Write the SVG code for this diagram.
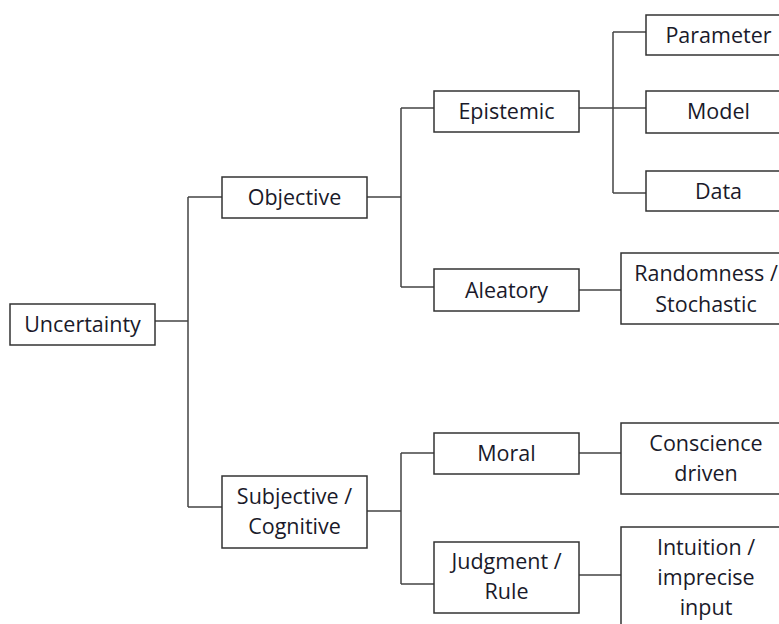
<svg xmlns="http://www.w3.org/2000/svg" width="779" height="624" viewBox="0 0 779 624">
<style>
rect.n{fill:#fff;stroke:#333;stroke-width:1.5}
text{font-family:"Open Sans","Liberation Sans",sans-serif;font-size:21.5px;fill:#1a1a2a;text-anchor:middle}
#connectors path{fill:none;stroke:#444;stroke-width:1.5}
</style>
<rect width="779" height="624" fill="#fff"/>
<g id="connectors">
<path d="M155,321H188M188,197V507M188,197H222M188,507H222"/>
<path d="M367,197H401M401,108V287M401,108H434M401,287H434"/>
<path d="M579,108H646M613,32V193M613,32H646M613,193H646"/>
<path d="M579,290H621"/>
<path d="M367,511H401M401,453V584M401,453H434M401,584H434"/>
<path d="M579,453H621M579,575H621"/>
</g>
<g id="uncertainty"><rect class="n" x="10" y="304" width="145" height="41"/><text x="82.5" y="332">Uncertainty</text></g>
<g id="objective"><rect class="n" x="222" y="177" width="145" height="41"/><text x="294.5" y="205">Objective</text></g>
<g id="subjective"><rect class="n" x="222" y="476" width="145" height="72"/><text x="294.5" y="504">Subjective /</text><text x="294.5" y="534">Cognitive</text></g>
<g id="epistemic"><rect class="n" x="434" y="91" width="145" height="41"/><text x="506.5" y="119">Epistemic</text></g>
<g id="aleatory"><rect class="n" x="434" y="269" width="145" height="42"/><text x="506.5" y="298">Aleatory</text></g>
<g id="moral"><rect class="n" x="434" y="433" width="145" height="41"/><text x="506.5" y="461">Moral</text></g>
<g id="judgment"><rect class="n" x="434" y="542" width="145" height="71"/><text x="506.5" y="569">Judgment /</text><text x="506.5" y="599">Rule</text></g>
<g id="parameter"><rect class="n" x="646" y="15" width="145" height="40"/><text x="718.5" y="43">Parameter</text></g>
<g id="model"><rect class="n" x="646" y="91" width="145" height="42"/><text x="718.5" y="119">Model</text></g>
<g id="data"><rect class="n" x="646" y="171" width="145" height="40"/><text x="718.5" y="199">Data</text></g>
<g id="randomness"><rect class="n" x="621" y="253" width="170" height="71"/><text x="706" y="281">Randomness /</text><text x="706" y="312">Stochastic</text></g>
<g id="conscience"><rect class="n" x="621" y="423" width="170" height="71"/><text x="706" y="451">Conscience</text><text x="706" y="481">driven</text></g>
<g id="intuition"><rect class="n" x="621" y="527" width="170" height="110"/><text x="706" y="555">Intuition /</text><text x="706" y="585">imprecise</text><text x="706" y="615">input</text></g>
</svg>
